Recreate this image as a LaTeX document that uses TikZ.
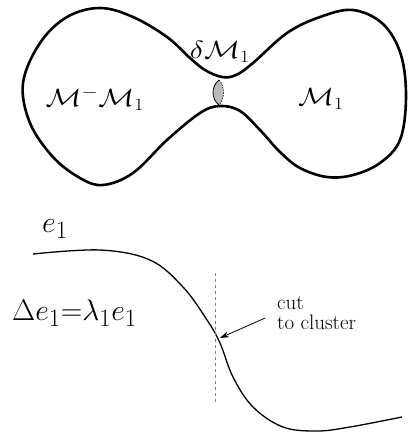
\documentclass[tikz,border=0pt]{standalone}
\usepackage{graphicx}
\usetikzlibrary{arrows.meta}
\newcommand{\wideM}[1]{\scalebox{1.2}[1]{$#1$}}
\newcommand{\bigmath}[1]{\scalebox{1.2}{$#1$}}

\begin{document}
\begin{tikzpicture}[x=1pt,y=-1pt,
  outline/.style={line width=2.6pt,line join=round},
  eigen/.style={line width=1.3pt},
  lbl/.style={inner sep=0pt,font=\fontsize{24}{24}\selectfont},
  big/.style={inner sep=0pt,font=\Huge},
  note/.style={inner sep=0pt,align=left,font=\fontsize{21}{20}\selectfont}]
\useasboundingbox (0,0) rectangle (408,432);
% the manifold, two lobes joined by a neck
\draw[outline] plot[smooth cycle,tension=0.6] coordinates {
  (222,77) (205,70) (190,58) (167,37) (133,17) (100,8) (67,17) (40,43)
  (23,83) (30,123) (53,157) (80,178) (103,185) (133,173) (167,140)
  (200,113) (220,106) (240,111) (260,130) (280,152) (300,168) (327,177)
  (353,175) (380,163) (400,140) (406,98) (401,55) (383,24) (353,10)
  (320,17) (287,33) (253,63) (236,75)};
\fill[gray!55] (219,80) .. controls (211,86) and (211,99) .. (219,105)
  .. controls (225,99) and (225,86) .. (219,80);
\draw[line width=0.8pt] (219,80) .. controls (211,86) and (211,99) .. (219,105);
\draw[line width=0.6pt,dash pattern=on 1.5pt off 1.2pt]
  (219,80) .. controls (225,86) and (225,99) .. (219,105);
\node[lbl] (bdry) at (220,52) {\wideM{\delta\mathcal{M}_1}};
\node[lbl] (rest) at (95,99) {\wideM{\mathcal{M}^{-}\mathcal{M}_1}};
\node[lbl] (part) at (321,99) {\wideM{\mathcal{M}_1}};
% the eigenvector
\node[big] (vec) at (55,229) {\bigmath{e_1}};
\node[big,anchor=west] (eq) at (12,313) {\bigmath{\Delta e_1{=}\lambda_1 e_1}};
\draw[eigen] plot[smooth,tension=0.6] coordinates {
  (33,254) (100,250) (150,260) (183,287) (207,320) (220,343) (233,377)
  (253,407) (283,427) (317,431) (350,427) (402,417)};
\coordinate (top) at (215,273);
\coordinate (bot) at (215,403);
\coordinate (hit) at (220,338);
\draw[gray,line width=0.8pt,dashed] (top) -- (bot);
\node[note,anchor=north west] (cut) at (277,296) {cut\\to cluster};
\draw[line width=0.8pt,-{Stealth[length=9pt,width=6pt]},shorten <=13pt] (cut.west) -- (hit);
\end{tikzpicture}
\end{document}
